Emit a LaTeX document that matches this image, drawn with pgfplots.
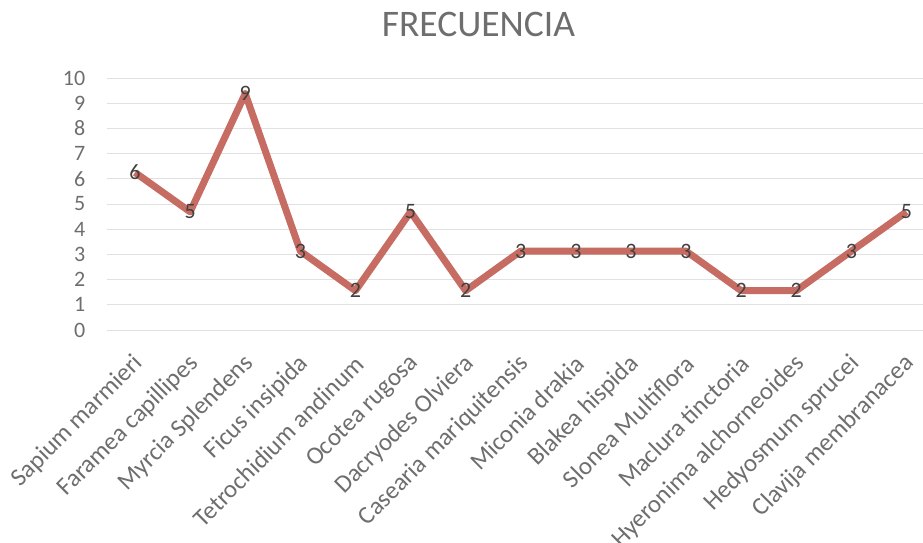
\documentclass[border=0pt]{standalone}
\usepackage{pgfplots}
\pgfplotsset{compat=1.18}
\usepackage{fontspec}
\setmainfont{Carlito}
\definecolor{linered}{RGB}{198,108,98}
\definecolor{gridgray}{RGB}{225,225,225}
\definecolor{txtgray}{RGB}{110,110,110}
\definecolor{lblgray}{RGB}{64,64,64}
\pgfplotstableread{
x y label
0 6.25 6
1 4.69 5
2 9.38 9
3 3.13 3
4 1.56 2
5 4.69 5
6 1.56 2
7 3.13 3
8 3.13 3
9 3.13 3
10 3.13 3
11 1.56 2
12 1.56 2
13 3.13 3
14 4.69 5
}\datatable
\begin{document}
\begin{tikzpicture}
\begin{axis}[
  at={(0,0)}, anchor=south west,
  scale only axis, width=815.5pt, height=252pt,
  xmin=-0.5, xmax=14.3, ymin=0, ymax=10,
  axis line style={draw=none},
  ytick={0,1,...,10},
  ymajorgrids,
  grid style={gridgray, line width=0.9pt},
  xtick={0,1,...,14},
  xticklabels={Sapium marmieri, Faramea capillipes, Myrcia Splendens, Ficus insipida, Tetrochidium andinum, Ocotea rugosa, Dacryodes Olviera, Casearia mariquitensis, Miconia drakia, Blakea hispida, Slonea Multiflora, Maclura tinctoria, Hyeronima alchorneoides, Hedyosmum sprucei, Clavija membranacea},
  major tick length=0pt,
  /pgf/number format/assume math mode=true,
  yticklabel style={font=\fontsize{22}{22}\selectfont, text=txtgray, anchor=east, inner sep=0pt, xshift=-22pt},
  xticklabel style={font=\fontsize{25}{25}\selectfont, text=txtgray, rotate=45, anchor=east, inner sep=0pt, yshift=-24pt, xshift=-18pt},
  clip=false,
]
\addplot[linered, line width=7pt, line join=round, nodes near coords, point meta=explicit symbolic,
  every node near coord/.append style={anchor=center, font=\fontsize{22}{22}\selectfont, text=lblgray, inner sep=0pt}]
  table[x=x, y=y, meta=label] {\datatable};
\end{axis}
\pgfresetboundingbox
\path[use as bounding box] (-107.5pt,-212pt) rectangle (815.5pt,330pt);
\node[text=txtgray, font=\fontsize{37.5}{37.5}\selectfont, inner sep=0pt] at (371pt,306pt) {FRECUENCIA};
\end{tikzpicture}
\end{document}
